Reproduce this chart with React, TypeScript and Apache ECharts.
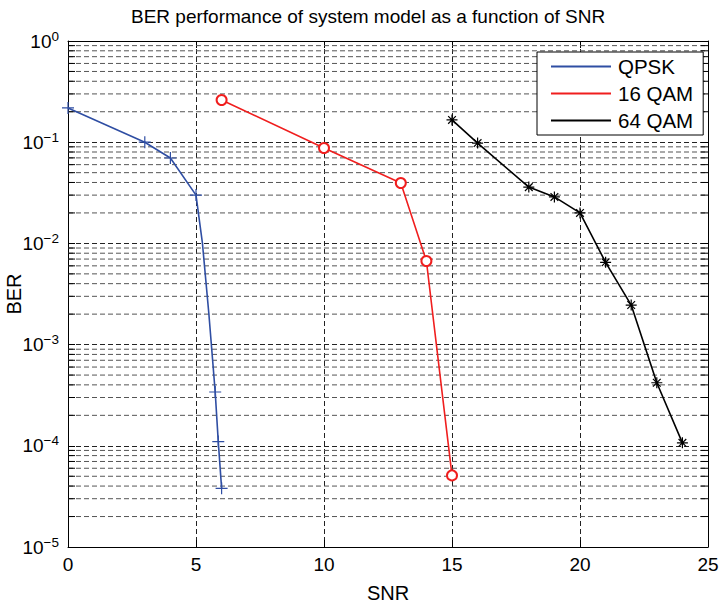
import React, { useEffect, useRef } from "react";
import * as echarts from "echarts";

const titleText = "BER performance of system model as a function of SNR";
const xTicks = [0, 5, 10, 15, 20, 25];
const yDecades = [-5, -4, -3, -2, -1, 0];
const minorMultipliers = [2, 3, 4, 5, 6, 7, 8, 9];

const qpskSNR = [0, 3, 4, 5, 5.25, 5.5, 5.75, 5.87, 6];
const qpskBER = [0.218, 0.1, 0.0698, 0.03, 0.0101, 0.00205, 3.4e-4, 1.1e-4, 3.8e-5];
const qpskMarked = [true, true, true, true, false, false, true, true, true];

const qam16SNR = [6, 10, 13, 14, 15];
const qam16BER = [0.261, 0.0877, 0.0395, 0.0067, 5.1e-5];

const qam64SNR = [15, 16, 18, 19, 20, 21, 22, 23, 24];
const qam64BER = [0.166, 0.098, 0.036, 0.0288, 0.02, 0.0065, 0.00246, 4.2e-4, 1.07e-4];

const BLUE = "#2f4ea3";
const RED = "#f01e1e";
const BLACK = "#000000";
const FONT = "'Liberation Sans', Arial, Helvetica, sans-serif";

const PLUS = "path://M0,6H12M6,0V12";
const STAR = "path://M6,0V12M0,6H12M1.8,1.8L10.2,10.2M10.2,1.8L1.8,10.2";

export default function App() {
  const ref = useRef<HTMLDivElement>(null);
  useEffect(() => {
    if (!ref.current) return;
    const chart = echarts.init(ref.current, null, { renderer: "svg" });

    const minorValues: number[][] = [];
    yDecades.slice(0, -1).forEach((d) => {
      minorMultipliers.forEach((m) => minorValues.push([0, m * Math.pow(10, d)]));
    });

    const yLabel = (v: number) => {
      const e = Math.round(Math.log10(v));
      const s = e < 0 ? "\u2212" + -e : String(e);
      return "{b|10}{s|" + s + "}";
    };

    const option: any = {
      animation: false,
      backgroundColor: "#fff",
      textStyle: { fontFamily: FONT },
      title: {
        text: titleText,
        left: 126,
        top: 2,
        textStyle: { fontFamily: FONT, fontSize: 19, fontWeight: "normal", color: "#000" },
      },
      grid: { left: 68, right: 14, top: 41, bottom: 59, containLabel: false, outerBoundsMode: "none" },
      legend: {
        orient: "vertical",
        left: 537,
        top: 52,
        itemWidth: 60,
        itemHeight: 2,
        itemGap: 0,
        icon: "rect",
        padding: [1, 10, 1, 14],
        borderColor: "#000",
        borderWidth: 1,
        backgroundColor: "#fff",
        itemStyle: { borderWidth: 0 },
        textStyle: { fontFamily: FONT, fontSize: 20.5, color: "#000", lineHeight: 27, padding: [0, 0, 0, 2] },
        data: ["QPSK", "16 QAM", "64 QAM"],
        z: 10,
      },
      xAxis: [
        {
          type: "value",
          min: 0,
          max: 25,
          interval: 5,
          position: "bottom",
          name: "SNR",
          nameLocation: "middle",
          nameGap: 36,
          nameMoveOverlap: false,
          nameTextStyle: { fontFamily: FONT, fontSize: 20, color: "#000" },
          axisLine: { show: true, onZero: false, lineStyle: { color: "#000", width: 1 } },
          axisTick: { show: true, inside: true, length: 7, lineStyle: { color: "#000" } },
          axisLabel: {
            fontFamily: FONT,
            fontSize: 19,
            color: "#000",
            margin: 8,
            customValues: xTicks,
          },
          splitLine: { show: true, lineStyle: { color: "#222", type: [5, 3], width: 1 } },
        },
        {
          type: "value",
          min: 0,
          max: 25,
          interval: 5,
          position: "top",
          axisLine: { show: true, onZero: false, lineStyle: { color: "#000", width: 1 } },
          axisTick: { show: true, inside: true, length: 7, lineStyle: { color: "#000" } },
          axisLabel: { show: false },
          splitLine: { show: false },
        },
      ],
      yAxis: [
        {
          type: "log",
          logBase: 10,
          min: 1e-5,
          max: 1,
          position: "left",
          name: "BER",
          nameLocation: "middle",
          nameGap: 44,
          nameMoveOverlap: false,
          nameTextStyle: { fontFamily: FONT, fontSize: 20, color: "#000" },
          axisLine: { show: true, onZero: false, lineStyle: { color: "#000", width: 1 } },
          axisTick: { show: true, inside: true, length: 7, lineStyle: { color: "#000" } },
          axisLabel: {
            margin: 9,
            formatter: yLabel,
            rich: {
              b: { fontFamily: FONT, fontSize: 19, color: "#000", lineHeight: 24 },
              s: { fontFamily: FONT, fontSize: 13.5, color: "#000", verticalAlign: "top", lineHeight: 13 },
            },
          },
          splitLine: { show: true, lineStyle: { color: "#222", type: [5, 3], width: 1 } },
        },
        {
          type: "log",
          logBase: 10,
          min: 1e-5,
          max: 1,
          position: "right",
          axisLine: { show: true, onZero: false, lineStyle: { color: "#000", width: 1 } },
          axisTick: { show: true, inside: true, length: 7, lineStyle: { color: "#000" } },
          axisLabel: { show: false },
          splitLine: { show: false },
        },
      ],
      series: [
        {
          type: "custom",
          name: "minorGrid",
          xAxisIndex: 0,
          yAxisIndex: 0,
          silent: true,
          z: 1,
          data: minorValues,
          renderItem: (params: any, api: any) => {
            const cs = params.coordSys;
            const p = api.coord([0, api.value(1)]);
            const y = p[1];
            return {
              type: "group",
              children: [
                {
                  type: "line",
                  shape: { x1: cs.x, y1: y, x2: cs.x + cs.width, y2: y },
                  style: { stroke: "#555", lineWidth: 1, lineDash: [5, 3] },
                },
                {
                  type: "line",
                  shape: { x1: cs.x, y1: y, x2: cs.x + 7, y2: y },
                  style: { stroke: "#000", lineWidth: 1 },
                },
                {
                  type: "line",
                  shape: { x1: cs.x + cs.width - 7, y1: y, x2: cs.x + cs.width, y2: y },
                  style: { stroke: "#000", lineWidth: 1 },
                },
              ],
            };
          },
        },
        {
          type: "line",
          name: "QPSK",
          z: 5,
          data: qpskSNR.map((x, i) =>
            qpskMarked[i] ? [x, qpskBER[i]] : { value: [x, qpskBER[i]], symbol: "none" }
          ),
          symbol: PLUS,
          symbolSize: 12,
          showAllSymbol: true,
          lineStyle: { color: BLUE, width: 1.6 },
          itemStyle: { color: BLUE, borderColor: BLUE, borderWidth: 1.2 },
        },
        {
          type: "line",
          name: "16 QAM",
          z: 5,
          data: qam16SNR.map((x, i) => [x, qam16BER[i]]),
          symbol: "emptyCircle",
          symbolSize: 10,
          showAllSymbol: true,
          lineStyle: { color: RED, width: 1.6 },
          itemStyle: { color: RED, borderColor: RED, borderWidth: 1.1 },
        },
        {
          type: "line",
          name: "64 QAM",
          z: 5,
          data: qam64SNR.map((x, i) => [x, qam64BER[i]]),
          symbol: STAR,
          symbolSize: 11,
          showAllSymbol: true,
          lineStyle: { color: BLACK, width: 1.6 },
          itemStyle: { color: BLACK, borderColor: BLACK, borderWidth: 1.2 },
        },
      ],
    };
    chart.setOption(option);
    return () => chart.dispose();
  }, []);
  return (
    <div
      ref={ref}
      style={{ position: "absolute", left: 0, top: 0, width: 722, height: 606, background: "#fff" }}
    />
  );
}
